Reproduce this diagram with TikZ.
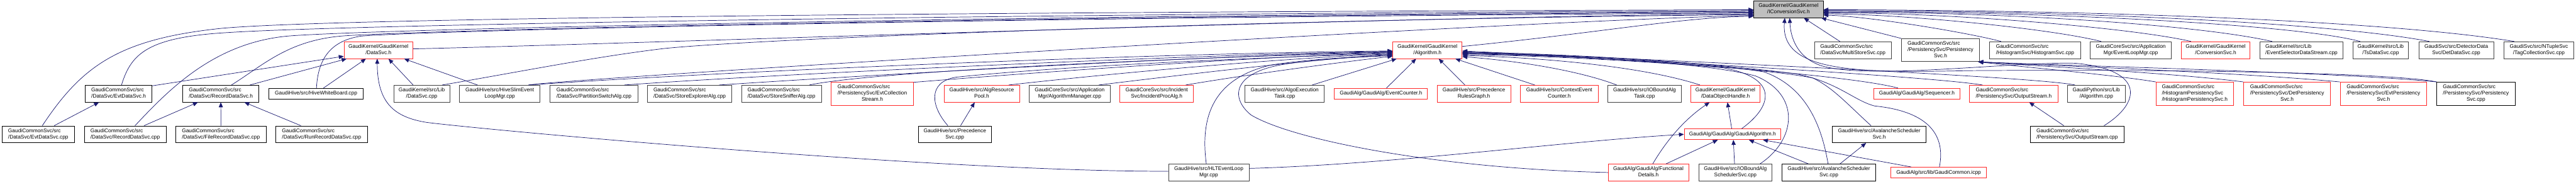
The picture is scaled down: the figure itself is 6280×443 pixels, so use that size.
\documentclass[tikz,border=0pt]{standalone}
\usepackage{fontspec}
\setmainfont{Liberation Sans}
\usepackage{tikz}
\usetikzlibrary{arrows.meta}
\definecolor{EdgeBlue}{RGB}{25,25,112}
\definecolor{BoxGrey}{RGB}{64,64,64}
\definecolor{TruncRed}{RGB}{255,40,40}
\definecolor{TopGrey}{RGB}{191,191,191}
\newcommand{\twol}[2]{\begin{tabular}{@{}l@{}}#1\\\multicolumn{1}{@{}c@{}}{#2}\end{tabular}}
\newcommand{\threel}[3]{\begin{tabular}{@{}l@{}}#1\\#2\\\multicolumn{1}{@{}c@{}}{#3}\end{tabular}}

\begin{document}
\begin{tikzpicture}[x=1pt, y=-1pt,
    file/.style={draw=BoxGrey, fill=white, line width=1.2pt, inner sep=0pt, minimum height=41pt,
                 font={\fontsize{12.8}{15.3}\selectfont}},
    filek/.style={file, draw=black},
    trunc/.style={file, draw=TruncRed},
    target/.style={file, draw=black, fill=TopGrey},
    one/.style={minimum height=26pt},
    three/.style={minimum height=56pt},
    incl/.style={draw=EdgeBlue, line width=1.1pt, -{Triangle[length=12pt, width=10pt]}}]

  \fill[white] (0,0) rectangle (6280,443);
  \useasboundingbox (0,0) rectangle (6280,443);

  \node[target, minimum width=169pt] (iconv) at (4360.1,22.7) {\twol{GaudiKernel/GaudiKernel}{/IConversionSvc.h}};

  \node[trunc, minimum width=168pt] (dsh) at (922.6,122) {\twol{GaudiKernel/GaudiKernel}{/DataSvc.h}};
  \node[trunc, minimum width=169pt] (algh) at (3479.9,122) {\twol{GaudiKernel/GaudiKernel}{/Algorithm.h}};
  \node[file, minimum width=188pt] (multistore) at (4517.1,122) {\twol{GaudiCommonSvc/src}{/DataSvc/MultiStoreSvc.cpp}};
  \node[file, three, minimum width=191pt] (perssvch) at (4730.6,122) {\threel{GaudiCommonSvc/src}{/PersistencySvc/Persistency}{Svc.h}};
  \node[file, minimum width=221pt] (histsvc) at (4961.3,122) {\twol{GaudiCommonSvc/src}{/HistogramSvc/HistogramSvc.cpp}};
  \node[file, minimum width=197pt] (evtloop) at (5194.6,122) {\twol{GaudiCoreSvc/src/Application}{Mgr/EventLoopMgr.cpp}};
  \node[trunc, minimum width=168pt] (convh) at (5401.4,122) {\twol{GaudiKernel/GaudiKernel}{/ConversionSvc.h}};
  \node[file, minimum width=203pt] (evtsel) at (5610.7,122) {\twol{GaudiKernel/src/Lib}{/EventSelectorDataStream.cpp}};
  \node[file, minimum width=136pt] (tsdata) at (5803.7,122) {\twol{GaudiKernel/src/Lib}{/TsDataSvc.cpp}};
  \node[file, minimum width=182pt] (detdata) at (5988,122) {\twol{GaudiSvc/src/DetectorData}{Svc/DetDataSvc.cpp}};
  \node[file, minimum width=171pt] (tagcoll) at (6189.4,122) {\twol{GaudiSvc/src/NTupleSvc}{/TagCollectionSvc.cpp}};

  \node[filek, minimum width=163pt] (evth) at (289.2,228) {\twol{GaudiCommonSvc/src}{/DataSvc/EvtDataSvc.h}};
  \node[filek, minimum width=185pt] (rech) at (538.3,228) {\twol{GaudiCommonSvc/src}{/DataSvc/RecordDataSvc.h}};
  \node[filek, one, minimum width=229pt] (hivewb) at (770.5,228) {GaudiHive/src/HiveWhiteBoard.cpp};
  \node[file, minimum width=136pt] (dscpp) at (1028.1,228) {\twol{GaudiKernel/src/Lib}{/DataSvc.cpp}};
  \node[file, minimum width=196pt] (hiveslim) at (1218.4,228) {\twol{GaudiHive/src/HiveSlimEvent}{LoopMgr.cpp}};
  \node[file, minimum width=214pt] (partsw) at (1448,228) {\twol{GaudiCommonSvc/src}{/DataSvc/PartitionSwitchAlg.cpp}};
  \node[file, minimum width=205pt] (storeexp) at (1681.2,228) {\twol{GaudiCommonSvc/src}{/DataSvc/StoreExplorerAlg.cpp}};
  \node[file, minimum width=195pt] (storesnf) at (1905,228) {\twol{GaudiCommonSvc/src}{/DataSvc/StoreSnifferAlg.cpp}};
  \node[trunc, three, minimum width=200pt] (evtcoll) at (2126.5,228) {\threel{GaudiCommonSvc/src}{/PersistencySvc/EvtCollection}{Stream.h}};
  \node[trunc, minimum width=184pt] (algpool) at (2393.2,228) {\twol{GaudiHive/src/AlgResource}{Pool.h}};
  \node[file, minimum width=198pt] (algmgr) at (2607.8,228) {\twol{GaudiCoreSvc/src/Application}{Mgr/AlgorithmManager.cpp}};
  \node[trunc, minimum width=179pt] (incproc) at (2819.8,228) {\twol{GaudiCoreSvc/src/Incident}{Svc/IncidentProcAlg.h}};
  \node[file, minimum width=193pt] (algoexec) at (3132,228) {\twol{GaudiHive/src/AlgoExecution}{Task.cpp}};
  \node[trunc, one, minimum width=227pt] (evcount) at (3366.5,228) {GaudiAlg/GaudiAlg/EventCounter.h};
  \node[trunc, minimum width=179pt] (precrules) at (3593.2,228) {\twol{GaudiHive/src/Precedence}{RulesGraph.h}};
  \node[trunc, minimum width=190pt] (ctxcount) at (3801.3,228) {\twol{GaudiHive/src/ContextEvent}{Counter.h}};
  \node[file, minimum width=179pt] (iotask) at (4009.2,228) {\twol{GaudiHive/src/IOBoundAlg}{Task.cpp}};
  \node[trunc, minimum width=168pt] (doh) at (4206.3,228) {\twol{GaudiKernel/GaudiKernel}{/DataObjectHandle.h}};
  \node[trunc, one, minimum width=209pt] (seqh) at (4673.1,228) {GaudiAlg/GaudiAlg/Sequencer.h};
  \node[trunc, minimum width=215pt] (outh) at (4909,228) {\twol{GaudiCommonSvc/src}{/PersistencySvc/OutputStream.h}};
  \node[file, minimum width=141pt] (gpyalg) at (5110.5,228) {\twol{GaudiPython/src/Lib}{/Algorithm.cpp}};
  \node[trunc, three, minimum width=189pt] (histpers) at (5350.5,228) {\threel{GaudiCommonSvc/src}{/HistogramPersistencySvc}{/HistogramPersistencySvc.h}};
  \node[trunc, three, minimum width=212pt] (detpers) at (5575.7,228) {\threel{GaudiCommonSvc/src}{/PersistencySvc/DetPersistency}{Svc.h}};
  \node[trunc, three, minimum width=211pt] (evtpers) at (5810.4,228) {\threel{GaudiCommonSvc/src}{/PersistencySvc/EvtPersistency}{Svc.h}};
  \node[filek, three, minimum width=191pt] (perscpp) at (6036,228) {\threel{GaudiCommonSvc/src}{/PersistencySvc/Persistency}{Svc.cpp}};

  \node[filek, minimum width=177pt] (evtcpp) at (93.2,327) {\twol{GaudiCommonSvc/src}{/DataSvc/EvtDataSvc.cpp}};
  \node[filek, minimum width=199pt] (reccpp) at (305.2,327) {\twol{GaudiCommonSvc/src}{/DataSvc/RecordDataSvc.cpp}};
  \node[filek, minimum width=220pt] (filerec) at (538.5,327) {\twol{GaudiCommonSvc/src}{/DataSvc/FileRecordDataSvc.cpp}};
  \node[filek, minimum width=223pt] (runrec) at (784,327) {\twol{GaudiCommonSvc/src}{/DataSvc/RunRecordDataSvc.cpp}};
  \node[filek, minimum width=179pt] (precsvc) at (2327.8,327) {\twol{GaudiHive/src/Precedence}{Svc.cpp}};
  \node[trunc, one, minimum width=236pt] (gaudialg) at (4223.7,327) {GaudiAlg/GaudiAlg/GaudiAlgorithm.h};
  \node[filek, minimum width=228pt] (avalh) at (4581.3,327) {\twol{GaudiHive/src/AvalancheScheduler}{Svc.h}};
  \node[filek, minimum width=228pt] (outcpp) at (5063.8,327) {\twol{GaudiCommonSvc/src}{/PersistencySvc/OutputStream.cpp}};

  \node[file, minimum width=196pt] (hlt) at (2946.8,420) {\twol{GaudiHive/src/HLTEventLoop}{Mgr.cpp}};
  \node[trunc, minimum width=196pt] (funcdet) at (4018.6,420) {\twol{GaudiAlg/GaudiAlg/Functional}{Details.h}};
  \node[file, minimum width=179pt] (iosched) at (4230.6,420) {\twol{GaudiHive/src/IOBoundAlg}{SchedulerSvc.cpp}};
  \node[filek, minimum width=228pt] (avalcpp) at (4458.6,420) {\twol{GaudiHive/src/AvalancheScheduler}{Svc.cpp}};
  \node[trunc, one, minimum width=233pt] (gcommon) at (4726.1,420) {GaudiAlg/src/lib/GaudiCommon.icpp};

  \draw[incl] ([xshift=10pt]evtcpp.north) .. controls (200,160) and (290,95) .. (540,69) .. controls (800,45) and (2200,30) .. ([yshift=-1pt]iconv.west);
  \draw[incl] ([xshift=7pt]evth.north) .. controls (320,130) and (360,90) .. (560,79) .. controls (820,62) and (2200,36) .. ([yshift=-3pt]iconv.west);
  \draw[incl] ([xshift=24pt]reccpp.north) .. controls (410,220) and (520,105) .. (700,88) .. controls (850,74) and (2200,40) .. ([yshift=-5pt]iconv.west);
  \draw[incl] ([xshift=26pt]rech.north) .. controls (640,160) and (700,100) .. (830,88) .. controls (950,77) and (2200,42) .. ([yshift=-7pt]iconv.west);
  \draw[incl] ([xshift=1pt]hivewb.north) .. controls (775,150) and (800,100) .. (880,88) .. controls (1000,77) and (2200,44) .. ([yshift=-9pt]iconv.west);
  \draw[incl] ([yshift=3pt]dsh.east) .. controls (1600,105) and (3400,40) .. ([yshift=-11pt]iconv.west);
  \draw[incl] ([xshift=50pt]dscpp.north) .. controls (1250,178) and (1450,138) .. (1620,118) .. controls (1900,90) and (3200,45) .. ([yshift=-13pt]iconv.west);
  \draw[incl] ([xshift=70pt]hiveslim.north) .. controls (1400,190) and (3700,50) .. ([yshift=-15pt]iconv.west);
  \draw[incl] ([yshift=9pt]algh.east) .. controls (3900,80) and (4100,42) .. ([yshift=-17pt]iconv.west);
  \draw[incl] ([xshift=-31.6pt]multistore.north) -- ([xshift=37.5pt]iconv.south);
  \draw[incl] (perssvch.north west) -- ([xshift=80pt]iconv.south);
  \draw[incl] ([xshift=-83pt]histsvc.north) .. controls (4800,80) and (4560,40) .. ([yshift=-14pt]iconv.east);
  \draw[incl] ([xshift=-72pt]evtloop.north) .. controls (5000,70) and (4650,35) .. ([yshift=-11pt]iconv.east);
  \draw[incl] ([xshift=-60pt]convh.north) .. controls (5200,68) and (4750,30) .. ([yshift=-9pt]iconv.east);
  \draw[incl] ([xshift=-71.5pt]evtsel.north) .. controls (5350,58) and (4850,28) .. ([yshift=-7pt]iconv.east);
  \draw[incl] ([xshift=-50pt]tsdata.north) .. controls (5600,60) and (5000,28) .. ([yshift=-5pt]iconv.east);
  \draw[incl] ([xshift=-65.5pt]detdata.north) .. controls (5700,58) and (5100,26) .. ([yshift=-3pt]iconv.east);
  \draw[incl] ([xshift=-60pt]tagcoll.north) .. controls (5850,55) and (5200,25) .. ([yshift=-1pt]iconv.east);
  \draw[incl] ([xshift=65.6pt]outcpp.north) .. controls (5220,250) and (5230,170) .. (5060,154) .. controls (4900,150) and (4560,195) .. (4440,160) .. controls (4380,140) and (4365,90) .. ([xshift=3pt]iconv.south);
  \draw[incl] (perscpp.north west) .. controls (5850,180) and (5400,168) .. (4800,172) .. controls (4520,178) and (4340,175) .. ([xshift=-9pt]iconv.south);

  \draw[incl] ([xshift=39pt]evtcpp.north) -- ([xshift=-48pt]evth.south);
  \draw[incl] ([xshift=46pt]reccpp.north) -- ([xshift=-56pt]rech.south);
  \draw[incl] (filerec.north) -- (rech.south);
  \draw[incl] ([xshift=-50.5pt]runrec.north) -- ([xshift=57.5pt]rech.south);
  \draw[incl] ([yshift=-2pt]evth.north east) -- ([yshift=-15pt]dsh.west);
  \draw[incl] ([xshift=71pt]rech.north) -- ([xshift=7pt]dsh.south west);
  \draw[incl] ([xshift=18pt]hivewb.north) -- ([xshift=-30.6pt]dsh.south);
  \draw[incl] ([yshift=3pt]hlt.west) .. controls (2300,418) and (1200,318) .. (1040,298) .. controls (960,285) and (920,250) .. ([xshift=-3pt]dsh.south);
  \draw[incl] ([xshift=-21pt]dscpp.north) -- ([xshift=24.5pt]dsh.south);
  \draw[incl] ([xshift=-54.4pt]hiveslim.north) -- ([xshift=62.5pt]dsh.south);
  \draw[incl] ([xshift=14pt]precsvc.north) -- ([xshift=-17pt]algpool.south);

  \draw[incl] ([xshift=70pt]hiveslim.north) .. controls (1800,172) and (2800,130) .. ([yshift=-2pt]algh.west);
  \draw[incl] ([xshift=74pt]partsw.north) .. controls (1900,180) and (2900,133) .. ([yshift=-3pt]algh.west);
  \draw[incl] ([xshift=72pt]storeexp.north) .. controls (2100,184) and (2950,135) .. ([yshift=-4pt]algh.west);
  \draw[incl] ([xshift=68pt]storesnf.north) .. controls (2150,170) and (3000,137) .. ([yshift=-5pt]algh.west);
  \draw[incl] ([yshift=-1pt]evtcoll.north east) .. controls (2500,178) and (3050,139) .. ([yshift=-6pt]algh.west);
  \draw[incl] ([xshift=-17pt]precsvc.north) .. controls (2270,260) and (2260,200) .. (2330,188) .. controls (2600,160) and (3050,141) .. ([yshift=-8pt]algh.west);
  \draw[incl] ([xshift=66pt]algpool.north) .. controls (2700,180) and (3100,143) .. ([yshift=-9pt]algh.west);
  \draw[incl] ([xshift=71pt]algmgr.north) .. controls (2900,180) and (3200,145) .. ([yshift=-10pt]algh.west);
  \draw[incl] ([xshift=71pt]incproc.north) .. controls (3050,180) and (3280,150) .. ([yshift=-15pt]algh.west);
  \draw[incl] ([xshift=-6pt]hlt.north) .. controls (2925,280) and (2960,190) .. (3100,158) .. controls (3200,143) and (3300,139) .. ([yshift=-12pt]algh.west);
  \draw[incl] (funcdet.west) .. controls (3500,410) and (3150,340) .. (3050,280) .. controls (3000,240) and (3000,175) .. (3140,155) .. controls (3250,140) and (3330,139) .. ([yshift=-13pt]algh.west);
  \draw[incl] ([xshift=67pt]algoexec.north) -- ([xshift=10pt]algh.south west);
  \draw[incl] ([xshift=13.5pt]evcount.north) -- ([xshift=-27.6pt]algh.south);
  \draw[incl] ([xshift=-22pt]precrules.north) -- ([xshift=27.5pt]algh.south);
  \draw[incl] ([xshift=-59.7pt]ctxcount.north) -- ([xshift=-17pt]algh.south east);
  \draw[incl] ([xshift=-68pt]iotask.north) .. controls (3850,172) and (3700,148) .. ([yshift=-16pt]algh.east);
  \draw[incl] ([xshift=-62pt]doh.north) .. controls (4000,160) and (3750,140) .. ([yshift=-13pt]algh.east);
  \draw[incl] ([xshift=22pt]gaudialg.north) .. controls (4320,260) and (4340,190) .. (4200,165) .. controls (4000,148) and (3750,135) .. ([yshift=-11pt]algh.east);
  \draw[incl] ([xshift=60pt]iosched.north) .. controls (4380,340) and (4390,230) .. (4280,185) .. controls (4150,150) and (3800,135) .. ([yshift=-9pt]algh.east);
  \draw[incl] ([xshift=-2pt]avalcpp.north) .. controls (4440,300) and (4400,210) .. (4300,175) .. controls (4150,150) and (3800,132) .. ([yshift=-8pt]algh.east);
  \draw[incl] ([xshift=-20pt]avalh.north) .. controls (4500,250) and (4470,215) .. (4420,190) .. controls (4300,165) and (3850,135) .. ([yshift=-7pt]algh.east);
  \draw[incl] ([xshift=-46pt]seqh.north) .. controls (4500,180) and (3900,136) .. ([yshift=-6pt]algh.east);
  \draw[incl] ([xshift=2pt]gcommon.north) .. controls (4745,320) and (4690,270) .. (4570,258) .. controls (4520,245) and (4480,200) .. (4380,180) .. controls (4150,150) and (3800,130) .. ([yshift=-5pt]algh.east);
  \draw[incl] ([xshift=-76pt]outh.north) .. controls (4700,185) and (3900,140) .. ([yshift=-4pt]algh.east);
  \draw[incl] ([xshift=-52pt]gpyalg.north) .. controls (4950,185) and (4000,145) .. ([yshift=-2pt]algh.east);

  \draw[incl] ([xshift=10.6pt]funcdet.north) .. controls (4070,330) and (4115,285) .. ([xshift=46pt]doh.south west);
  \draw[incl] ([xshift=-2pt]gaudialg.north) -- ([xshift=5pt]doh.south);
  \draw[incl] ([xshift=43pt]funcdet.north) -- ([xshift=-36pt]gaudialg.south);
  \draw[incl] ([xshift=-2pt]iosched.north) -- ([xshift=2pt]gaudialg.south);
  \draw[incl] ([xshift=-50pt]avalcpp.north) -- ([xshift=40pt]gaudialg.south);
  \draw[incl] ([xshift=-67pt]gcommon.north) -- ([xshift=74pt]gaudialg.south);
  \draw[incl] ([yshift=10pt]hlt.east) .. controls (3400,400) and (3800,345) .. (gaudialg.west);
  \draw[incl] ([xshift=27pt]avalcpp.north) -- ([xshift=-32pt]avalh.south);
  \draw[incl] ([xshift=-32.5pt]outcpp.north) -- ([xshift=38pt]outh.south);

  \draw[incl] (histpers.north west) .. controls (5150,182) and (4950,165) .. ([xshift=-4pt]perssvch.south east);
  \draw[incl] (detpers.north west) .. controls (5300,178) and (5000,163) .. ([xshift=-4pt]perssvch.south east);
  \draw[incl] (evtpers.north west) .. controls (5450,176) and (5050,162) .. ([xshift=-4pt]perssvch.south east);
  \draw[incl] (perscpp.north west) .. controls (5700,176) and (5100,162) .. ([xshift=-4pt]perssvch.south east);
\end{tikzpicture}
\end{document}
